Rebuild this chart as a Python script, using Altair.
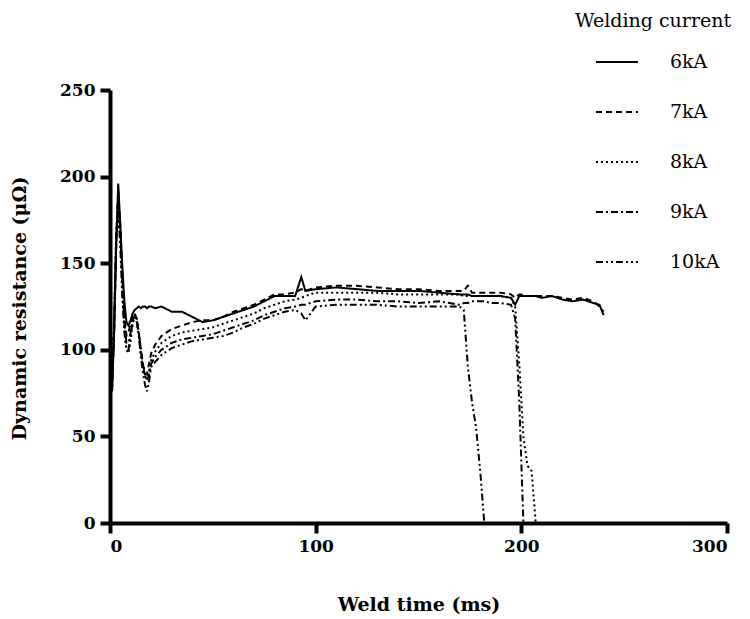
import altair as alt
import pandas as pd
import numpy as np

N = None
# shared time grid (ms), written in chunks
T = ([1, 2, 3, 4, 5, 6, 7, 8, 9, 10, 11, 12, 13, 14, 15, 16, 17, 18, 19, 20]
     + [22, 25, 30, 35, 40, 45, 50, 55, 60, 65, 70, 75, 80, 85, 90]
     + [93, 95, 100]
     + [110, 120, 130, 140, 150, 160, 170]
     + [172, 174, 176, 178, 180, 182]
     + [185, 190, 195]
     + [197, 199, 201, 203, 205, 207]
     + [210, 215, 220, 225, 230, 235, 238, 240])

R6 = ([78, 110, 160, 196, 172, 148, 128, 116, 114, 117, 121, 123, 124, 125, 124, 125, 125, 124, 125, 125]
      + [124, 125, 122, 122, 119, 116, 117, 119, 121, 123, 125, 128, 131, 131, 131]
      + [142, 134, 135]
      + [136, 135, 134, 134, 134, 133, 132]
      + [132, 132, 131, 131, 131, 131]
      + [131, 131, 130]
      + [126, 131, 131, 131, 131, 131]
      + [130, 131, 129, 128, 129, 127, 126, 120])

R7 = ([77, 112, 160, 192, 172, 145, 120, 108, 110, 115, 120, 121, 118, 110, 100, 92, 86, 86, 92, 98]
      + [103, 108, 112, 114, 116, 117, 117, 119, 122, 124, 126, 129, 132, 132, 133]
      + [135, 134, 136]
      + [137, 137, 136, 135, 135, 134, 134]
      + [134, 137, 133, 133, 133, 133]
      + [133, 133, 132]
      + [130, 132, 132, 131, 131, 131]
      + [131, 131, 130, 129, 130, 128, 125, 122])

R8 = ([80, 118, 168, 185, 165, 135, 112, 100, 98, 105, 115, 119, 116, 108, 98, 90, 85, 84, 88, 94]
      + [99, 104, 108, 110, 111, 112, 113, 115, 117, 119, 121, 124, 126, 128, 129]
      + [130, 131, 133]
      + [133, 133, 133, 132, 132, 132, 132]
      + [131, 131, 131, 131, 131, 131]
      + [131, 131, 130]
      + [125, 92, 50, 33, 30, 0]
      + [N, N, N, N, N, N, N, N])

R9 = ([78, 115, 165, 188, 168, 138, 115, 104, 104, 110, 117, 120, 118, 110, 100, 92, 85, 82, 86, 92]
      + [96, 100, 104, 106, 107, 108, 109, 111, 113, 115, 117, 120, 122, 124, 125]
      + [126, 126, 128]
      + [129, 129, 128, 128, 127, 128, 126]
      + [127, 127, 128, 128, 128, 128]
      + [127, 127, 126]
      + [118, 70, 0, N, N, N]
      + [N, N, N, N, N, N, N, N])

R10 = ([76, 110, 160, 180, 160, 130, 110, 100, 100, 108, 116, 119, 117, 108, 96, 87, 80, 76, 82, 90]
       + [93, 97, 101, 103, 105, 106, 107, 108, 110, 113, 115, 118, 120, 122, 123]
       + [121, 117, 125]
       + [126, 126, 126, 125, 125, 125, 125]
       + [123, 90, 70, 55, 30, 0]
       + [N, N, N]
       + [N, N, N, N, N, N]
       + [N, N, N, N, N, N, N, N])

SERIES = ["6kA", "7kA", "8kA", "9kA", "10kA"]
DASHES = [[1, 0], [6, 4], [2, 3], [7, 3, 2, 3], [7, 3, 2, 3, 2, 3]]

rows = []
for name, vals in zip(SERIES, [R6, R7, R8, R9, R10]):
    for t, r in zip(T, vals):
        if r is not None:
            rows.append({"t": t, "r": r, "current": name})
df = pd.DataFrame(rows)

FONT = "DejaVu Serif"

x_axis = alt.Axis(values=[0, 100, 200, 300], grid=False, domainWidth=4, domainColor="black",
                  tickWidth=4, tickSize=10, tickColor="black",
                  labelFont=FONT, labelFontWeight="bold", labelFontSize=17, labelColor="black",
                  labelPadding=5, title="Weld time (ms)", titleFont=FONT, titleFontSize=19,
                  titleFontWeight="bold", titleColor="black", titleY=81, titleBaseline="middle")
y_axis = alt.Axis(values=[0, 50, 100, 150, 200, 250], grid=False, domainWidth=4, domainColor="black",
                  tickWidth=4, tickSize=10, tickColor="black",
                  labelFont=FONT, labelFontWeight="bold", labelFontSize=17, labelColor="black",
                  labelPadding=5, title="Dynamic resistance (μΩ)", titleFont=FONT, titleFontSize=19,
                  titleFontWeight="bold", titleColor="black", titleX=-91, titleY=218,
                  titleAngle=-90, titleAlign="center", titleBaseline="middle")

legend = alt.Legend(orient="none", legendX=465, legendY=-78, title="Welding current",
                    titleFont=FONT, titleFontSize=19, titleFontWeight="normal", titleColor="black",
                    titlePadding=9, labelFont=FONT, labelFontSize=19, labelColor="black",
                    symbolType="stroke", symbolSize=1764, symbolStrokeWidth=2,
                    symbolStrokeColor="black", symbolOffset=20, labelOffset=31, rowPadding=18,
                    padding=0)

chart = alt.Chart(df).mark_line(color="black", strokeWidth=2).encode(
    x=alt.X("t:Q", scale=alt.Scale(domain=[0, 300], nice=False), axis=x_axis),
    y=alt.Y("r:Q", scale=alt.Scale(domain=[0, 250], nice=False), axis=y_axis),
    strokeDash=alt.StrokeDash("current:N", scale=alt.Scale(domain=SERIES, range=DASHES),
                              sort=SERIES, legend=legend),
    detail="current:N",
    order="t:Q",
).properties(
    width=617, height=433,
    autosize=alt.AutoSizeParams(type="none"),
    padding={"left": 102, "top": 82, "right": 15, "bottom": 92},
).configure_view(stroke=None)

chart.save("out.html", embed_options={"renderer": "svg", "actions": False})
